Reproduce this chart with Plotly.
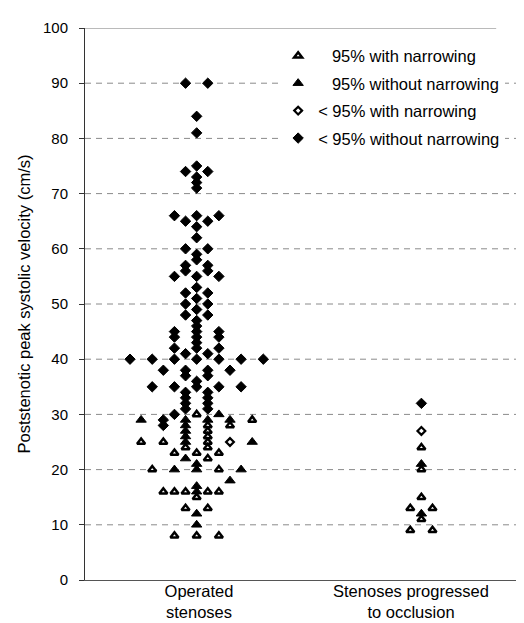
import plotly.graph_objects as go

# ---------------- data ----------------
categories = ["Operated<br>stenoses", "Stenoses progressed<br>to occlusion"]
series_names = ["95% with narrowing", "95% without narrowing",
                "< 95% with narrowing", "< 95% without narrowing"]
y_ticks = [0, 10, 20, 30, 40, 50, 60, 70, 80, 90, 100]

# velocity values (cm/s) and slot index (side-by-side position within a row)
# --- group 1: operated stenoses
open_tri_op_values = [30, 29, 28, 28, 27, 26, 25, 25, 25, 24, 24, 23, 23, 23, 22,
                      20, 20, 16, 16, 16, 16, 16, 15, 13, 13, 8, 8, 8]
open_tri_op_slots = [0, 5, 3, 1, 1, 1, -5, -3, 1, -1, 1, -2, 0, 2, 1,
                     -4, 2, -3, -2, -1, 1, 2, 0, -1, 1, -2, 0, 2]

fill_tri_op_values = [30, 29, 29, 29, 29, 28, 27, 26, 25, 25, 22, 21, 20, 20, 20,
                      18, 17, 16, 12, 10]
fill_tri_op_slots = [2, -5, 3, -1, 1, -1, -1, -1, -1, 5, -1, 0, -2, 0, 4,
                     3, 0, 0, 0, 0]

open_dia_op_values = [25]
open_dia_op_slots = [3]

fill_dia_op_values = [90, 90, 84, 81, 75, 74, 74, 73, 72, 71,
                      66, 66, 66, 65, 65, 64, 62, 60, 60, 59, 58,
                      57, 57, 56, 56, 55, 55, 55, 53, 52, 52, 51,
                      50, 50, 49, 48, 48, 47, 46, 45, 45, 45, 44, 44, 44, 43,
                      42, 42, 42, 41, 41,
                      40, 40, 40, 40, 40, 40, 40,
                      38, 38, 38, 38, 37, 37, 36,
                      35, 35, 35, 35, 35,
                      34, 34, 33, 33, 32, 32, 31, 31, 30, 29, 28]
fill_dia_op_slots = [-1, 1, 0, 0, 0, -1, 1, 0, 0, 0,
                     -2, 0, 2, -1, 1, 0, 0, -1, 1, 0, 0,
                     -1, 1, -1, 1, -2, 0, 2, 0, -1, 1, 0,
                     -1, 1, 0, -1, 1, 0, 0, -2, 0, 2, -2, 0, 2, 0,
                     -2, 0, 2, -1, 1,
                     -6, -4, -2, 0, 2, 4, 6,
                     -3, -1, 1, 3, -1, 1, 0,
                     -4, -2, 0, 2, 4,
                     -1, 1, -1, 1, -1, 1, -1, 1, -2, -3, -3]

# --- group 2: stenoses progressed to occlusion
open_tri_oc_values = [24, 20, 15, 13, 13, 11, 9, 9]
open_tri_oc_slots = [0, 0, 0, -1, 1, 0, -1, 1]
fill_tri_oc_values = [21, 12]
fill_tri_oc_slots = [0, 0]
open_dia_oc_values = [27]
open_dia_oc_slots = [0]
fill_dia_oc_values = [32]
fill_dia_oc_slots = [0]

# ---------------- layout helpers ----------------
tick_pos = [1, 2]
group_centre = [0.989, 2.049]   # centre of each dot column on the x scale
slot_step = 0.0524              # horizontal spacing of side-by-side dots


def xs(group, slots):
    return [group_centre[group] + s * slot_step for s in slots]


series = [
    (series_names[0], open_tri_op_values, open_tri_op_slots, open_tri_oc_values, open_tri_oc_slots,
     dict(symbol="triangle-up", size=7, color="white", line=dict(color="black", width=2.5))),
    (series_names[1], fill_tri_op_values, fill_tri_op_slots, fill_tri_oc_values, fill_tri_oc_slots,
     dict(symbol="triangle-up", size=9, color="black", line=dict(color="black", width=1))),
    (series_names[2], open_dia_op_values, open_dia_op_slots, open_dia_oc_values, open_dia_oc_slots,
     dict(symbol="diamond", size=6, color="white", line=dict(color="black", width=2.2))),
    (series_names[3], fill_dia_op_values, fill_dia_op_slots, fill_dia_oc_values, fill_dia_oc_slots,
     dict(symbol="diamond", size=8, color="black", line=dict(color="black", width=1))),
]

fig = go.Figure()
for i, (name, v1, s1, v2, s2, mk) in enumerate(series):
    label = name if name.startswith("<") else "\u00a0\u00a0\u00a0" + name
    fig.add_trace(go.Scatter(
        x=xs(0, s1) + xs(1, s2), y=v1 + v2, mode="markers", name=label,
        marker=mk, legendgroup=str(i), showlegend=True))

# dashed grid lines
for v in y_ticks[1:-1]:
    fig.add_shape(type="line", xref="paper", yref="y", x0=0, x1=1, y0=v, y1=v,
                  line=dict(color="#8a8a8a", width=1, dash="6px,5px"), layer="below")
fig.add_shape(type="line", xref="paper", yref="y", x0=0, x1=0.924, y0=100, y1=100,
              line=dict(color="#777777", width=1), layer="below")

font = "Liberation Sans, Arial, sans-serif"
fig.update_layout(
    width=524, height=623,
    margin=dict(l=77, r=2, t=20, b=51, autoexpand=False),
    paper_bgcolor="white", plot_bgcolor="white",
    font=dict(family=font, size=15, color="black"),
    showlegend=True,
    legend=dict(x=0.434, y=0.981, xanchor="left", yanchor="top",
                bgcolor="white", borderwidth=0, font=dict(size=16.5, family=font),
                traceorder="grouped", tracegroupgap=3),
    xaxis=dict(range=[0.4623, 2.5613], tickvals=tick_pos, ticktext=categories,
               showgrid=False, zeroline=False, showline=True, linecolor="#555555",
               ticks="", tickfont=dict(size=16.5), automargin=False,
               ticklabelstandoff=-4),
    yaxis=dict(range=[0, 100], tickvals=y_ticks, showgrid=False, zeroline=False,
               showline=True, linecolor="#333333", ticks="outside", ticklen=5,
               tickcolor="#333333", tickfont=dict(size=15), automargin=False,
               ticklabelstandoff=8,
               title=dict(text="Poststenotic peak systolic velocity (cm/s)",
                          font=dict(size=16.5), standoff=8)),
)

fig.write_html("out.html")
